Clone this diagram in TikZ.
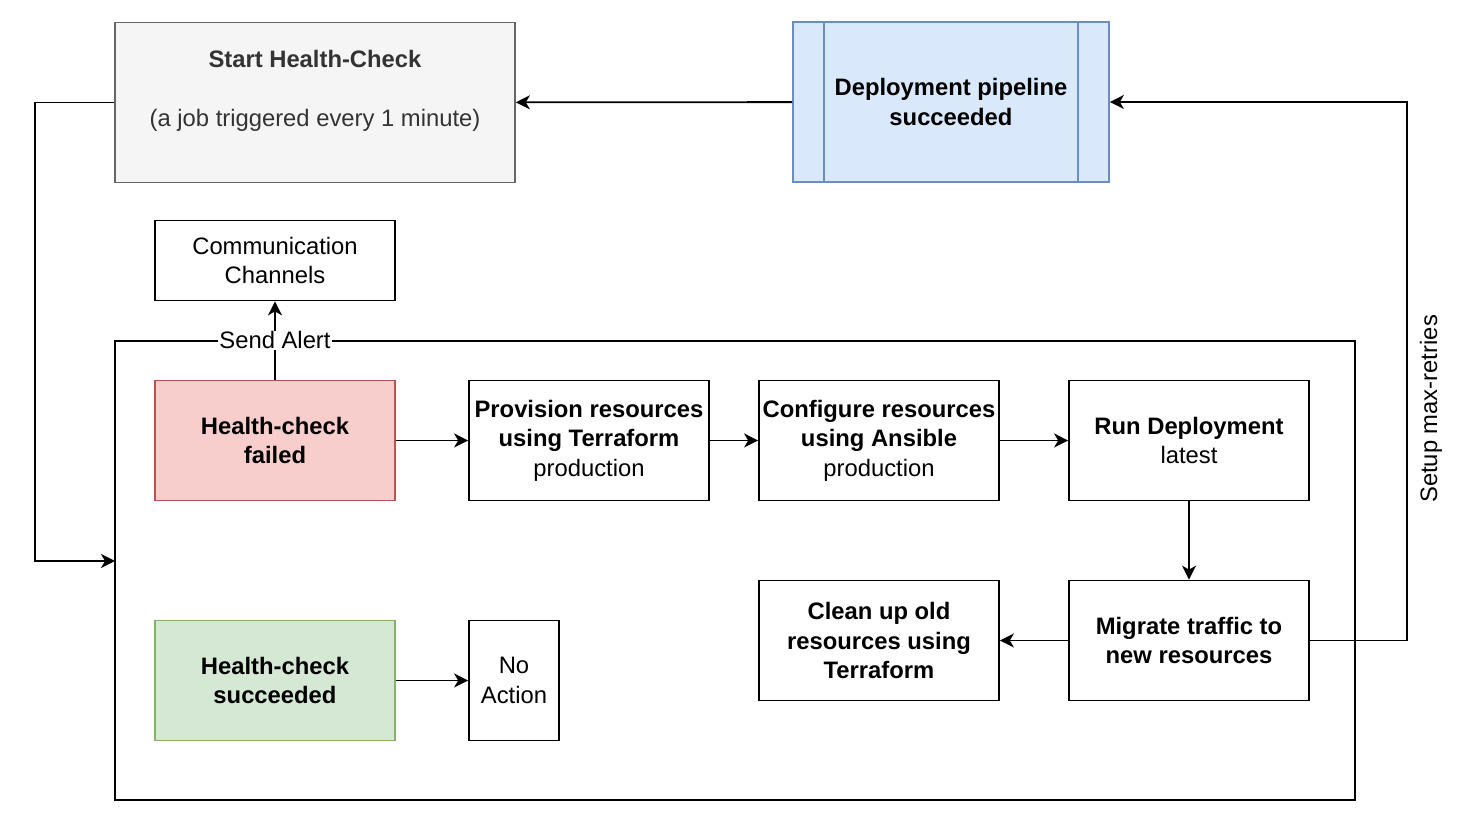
\documentclass[tikz,border=0pt]{standalone}
\usepackage{fontspec}
\setmainfont{Liberation Sans}
\usepackage{tikz}
\usetikzlibrary{arrows.meta}
\usepackage{xcolor}
\definecolor{greyfill}{HTML}{F5F5F5}
\definecolor{greyline}{HTML}{666666}
\definecolor{greytext}{HTML}{333333}
\definecolor{bluefill}{HTML}{DAE8FC}
\definecolor{blueline}{HTML}{6C8EBF}
\definecolor{redfill}{HTML}{F8CECC}
\definecolor{redline}{HTML}{B85450}
\definecolor{greenfill}{HTML}{D5E8D4}
\definecolor{greenline}{HTML}{82B366}

\begin{document}
\begin{tikzpicture}[x=0.5pt,y=-0.5pt,
  every node/.style={font=\fontsize{11.9}{14.8}\selectfont, align=center},
  box/.style={draw, line width=0.85pt, minimum width=120pt, minimum height=60pt, inner sep=0pt},
  arr/.style={-{Stealth[length=7pt,width=7pt,inset=2pt]}, line width=0.9pt}]
 \useasboundingbox (0,0) rectangle (1480,822);

 % top row
 \node[box, fill=greyfill, draw=greyline, minimum width=200pt, minimum height=80pt] (start) at (315,102.5) {};
 \node[text=greytext] (starttext) at (315,91) {\textbf{Start Health-Check}\\[14.6pt](a job triggered every 1 minute)};
 \node[box, fill=bluefill, draw=blueline, minimum width=158pt, minimum height=80pt] (deploy) at (951,102) {\textbf{Deployment pipeline}\\\textbf{succeeded}};
 \draw[blueline, line width=0.85pt] ([xshift=16pt]deploy.north west) -- ([xshift=16pt]deploy.south west);
 \draw[blueline, line width=0.85pt] ([xshift=-16pt]deploy.north east) -- ([xshift=-16pt]deploy.south east);

 % frame round the checks
 \node[draw, line width=0.85pt, minimum width=620pt, minimum height=229.5pt, inner sep=0pt] (frame) at (735,570.5) {};
 \coordinate (frameentry) at (115,561);

 \node[box, minimum height=40pt] (comm) at (275,260.5) {Communication\\Channels};
 \node[box, fill=redfill, draw=redline] (failed) at (275,440.5) {\textbf{Health-check}\\\textbf{failed}};
 \node[box] (provision) at (589,440.5) {\textbf{Provision resources}\\\textbf{using Terraform}\\production};
 \node[box] (configure) at (879,440.5) {\textbf{Configure resources}\\\textbf{using Ansible}\\production};
 \node[box] (run) at (1189,440.5) {\textbf{Run Deployment}\\latest};
 \node[box] (migrate) at (1189,640.5) {\textbf{Migrate traffic to}\\\textbf{new resources}};
 \node[box] (cleanup) at (879,640.5) {\textbf{Clean up old}\\\textbf{resources using}\\\textbf{Terraform}};
 \node[box, fill=greenfill, draw=greenline] (succeeded) at (275,680.5) {\textbf{Health-check}\\\textbf{succeeded}};
 \node[box, minimum width=45pt] (noaction) at (514,680.5) {No\\Action};

 % connectors
 \draw[arr] (deploy) -- (start);
 \draw[arr] (start.west) -- (35,102.5) -- (35,561) -- (frameentry);
 \draw[arr] (failed) -- node[fill=white, inner sep=0.5pt] (alertlbl) {Send Alert} (comm);
 \draw[arr] (failed) -- (provision);
 \draw[arr] (provision) -- (configure);
 \draw[arr] (configure) -- (run);
 \draw[arr] (run) -- (migrate);
 \draw[arr] (migrate) -- (cleanup);
 \draw[arr] (succeeded) -- (noaction);
 \draw[arr] (migrate.east) -- (1407,640.5) -- node[pos=0.43, rotate=90, anchor=north, inner sep=6pt] (retrylbl) {Setup max-retries} (1407,102) -- (deploy.east);
\end{tikzpicture}
\end{document}
